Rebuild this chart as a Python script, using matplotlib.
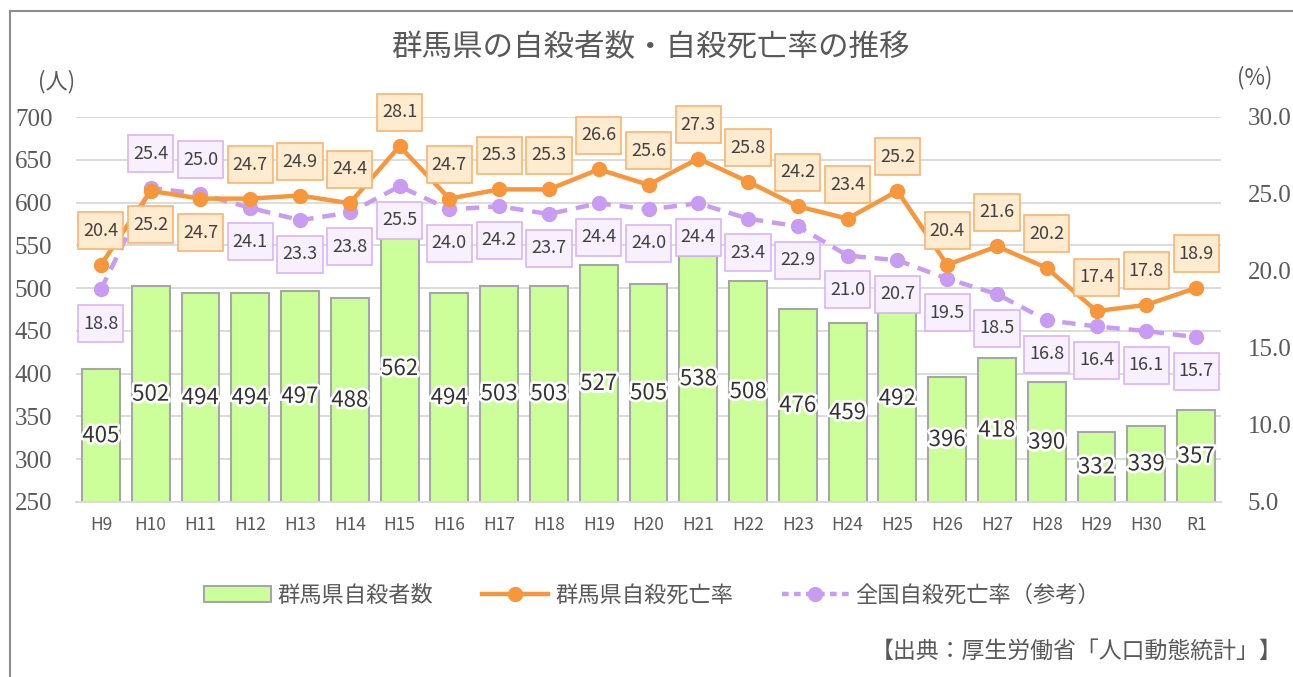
import matplotlib.pyplot as plt
import matplotlib.patheffects as pe
from matplotlib.lines import Line2D
from matplotlib.patches import Patch, Rectangle
from matplotlib.path import Path

plt.rcParams['font.family'] = ['Noto Sans CJK JP', 'DejaVu Sans']

years = ['H9', 'H10', 'H11', 'H12', 'H13', 'H14', 'H15', 'H16', 'H17', 'H18', 'H19', 'H20',
         'H21', 'H22', 'H23', 'H24', 'H25', 'H26', 'H27', 'H28', 'H29', 'H30', 'R1']
suicides = [405, 502, 494, 494, 497, 488, 562, 494, 503, 503, 527, 505,
            538, 508, 476, 459, 492, 396, 418, 390, 332, 339, 357]
gunma_rate = [20.4, 25.2, 24.7, 24.7, 24.9, 24.4, 28.1, 24.7, 25.3, 25.3, 26.6, 25.6,
              27.3, 25.8, 24.2, 23.4, 25.2, 20.4, 21.6, 20.2, 17.4, 17.8, 18.9]
national_rate = [18.8, 25.4, 25.0, 24.1, 23.3, 23.8, 25.5, 24.0, 24.2, 23.7, 24.4, 24.0,
                 24.4, 23.4, 22.9, 21.0, 20.7, 19.5, 18.5, 16.8, 16.4, 16.1, 15.7]
# years where the Gunma label sits below its point (national label above)
gunma_below = ['H10', 'H11']

orange = '#F7963A'
purple = '#C89CF3'
text_c = '#595959'
serif = ['Liberation Serif', 'DejaVu Serif']


def fixed_box(x0, y0, width, height, mutation_size):
    # Excel-like data label box: fixed 45x37 px, centred on the text
    w, h = 2.5 * mutation_size, 2.05 * mutation_size
    cx, cy = x0 + width / 2, y0 + height / 2
    return Path([(cx - w / 2, cy - h / 2), (cx + w / 2, cy - h / 2), (cx + w / 2, cy + h / 2),
                 (cx - w / 2, cy + h / 2), (cx - w / 2, cy - h / 2)], closed=True)


fig = plt.figure(figsize=(12.93, 6.77), dpi=100)
fig.patches.append(Rectangle((10 / 1293, -0.1), 1.2, 1 - 11 / 677 + 0.1, transform=fig.transFigure,
                             fill=False, edgecolor='#8C8C8C', linewidth=1.5))

ax = fig.add_axes([76 / 1293, 1 - 502 / 677, 1145 / 1293, 385 / 677])
ax2 = ax.twinx()

x = list(range(len(years)))
ax.bar(x, suicides, width=0.76, color='#CCFF99', edgecolor='#A6A6A6', linewidth=1.5, zorder=2)
ax.set_ylim(250, 700)
ax.set_xlim(-0.5, len(years) - 0.5)
ax.set_yticks(range(250, 701, 50))
ax.yaxis.grid(True, color='#D9D9D9', linewidth=1.3, zorder=0)
ax.set_axisbelow(True)
ax.set_xticks(x)
ax.set_xticklabels(years)
ax.tick_params(axis='x', length=0, pad=10, labelsize=12.5, labelcolor=text_c)
ax.tick_params(axis='y', length=0, pad=17, labelcolor=text_c)
for lab in ax.get_yticklabels():
    lab.set_fontfamily(serif)
    lab.set_fontsize(18)
for s in ax.spines.values():
    s.set_visible(False)
ax.spines['bottom'].set_visible(True)
ax.spines['bottom'].set_color('#D9D9D9')
ax.spines['bottom'].set_linewidth(1.3)

for xi, v in zip(x, suicides):
    ax.text(xi, (250 + v) / 2, str(v), ha='center', va='center', fontsize=16, color='#333333',
            zorder=3, path_effects=[pe.withStroke(linewidth=4, foreground='white')])

ax2.plot(x, national_rate, color=purple, linewidth=3.2, linestyle=(0, (3, 2)),
         marker='o', markersize=10, zorder=3)
ax2.plot(x, gunma_rate, color=orange, linewidth=3.2, marker='o', markersize=10, zorder=4)
ax2.set_ylim(5, 30)
ax2.set_yticks([5, 10, 15, 20, 25, 30])
ax2.set_yticklabels(['5.0', '10.0', '15.0', '20.0', '25.0', '30.0'])
ax2.tick_params(axis='y', length=0, pad=19, labelcolor=text_c)
for lab in ax2.get_yticklabels():
    lab.set_fontfamily(serif)
    lab.set_fontsize(18)
for s in ax2.spines.values():
    s.set_visible(False)

box_o = dict(boxstyle=fixed_box, facecolor='#FFEBCF', edgecolor='#F8B470', linewidth=1.2)
box_p = dict(boxstyle=fixed_box, facecolor='#F8F0FD', edgecolor='#D8B6F6', linewidth=1.2)
for xi, yr, g, n in zip(x, years, gunma_rate, national_rate):
    off = -24.5 if yr in gunma_below else 24.5
    ax2.annotate(f'{g:.1f}', (xi, g), xytext=(0, off), textcoords='offset points',
                 ha='center', va='center', fontsize=13, color='#404040', bbox=box_o, zorder=5)
    ax2.annotate(f'{n:.1f}', (xi, n), xytext=(0, -off), textcoords='offset points',
                 ha='center', va='center', fontsize=13, color='#404040', bbox=box_p, zorder=5)

fig.text(650 / 1293, 1 - 47 / 677, '群馬県の自殺者数・自殺死亡率の推移', ha='center', va='center',
         fontsize=22, color=text_c)
fig.text(57 / 1293, 1 - 82 / 677, '(人)', ha='center', va='center', fontsize=16, color=text_c)
fig.text(1255 / 1293, 1 - 78 / 677, '(%)', ha='center', va='center', fontsize=16, color=text_c)

handles = [Patch(facecolor='#CCFF99', edgecolor='#A6A6A6', linewidth=1.5),
           Line2D([], [], color=orange, linewidth=3.2, marker='o', markersize=10),
           Line2D([], [], color=purple, linewidth=3.2, linestyle=(0, (1.5, 1.2)), marker='o', markersize=10)]
fig.legend(handles, ['群馬県自殺者数', '群馬県自殺死亡率', '全国自殺死亡率（参考）'],
           loc='center', bbox_to_anchor=(652 / 1293, 1 - 595 / 677), ncol=3, frameon=False,
           fontsize=16, labelcolor=text_c, handlelength=3, columnspacing=2.2, handletextpad=0.3)

fig.text(1283 / 1293, 1 - 651 / 677, '【出典：厚生労働省「人口動態統計」】', ha='right', va='center',
         fontsize=16.5, color=text_c)

fig.savefig('out.png', dpi=100)
